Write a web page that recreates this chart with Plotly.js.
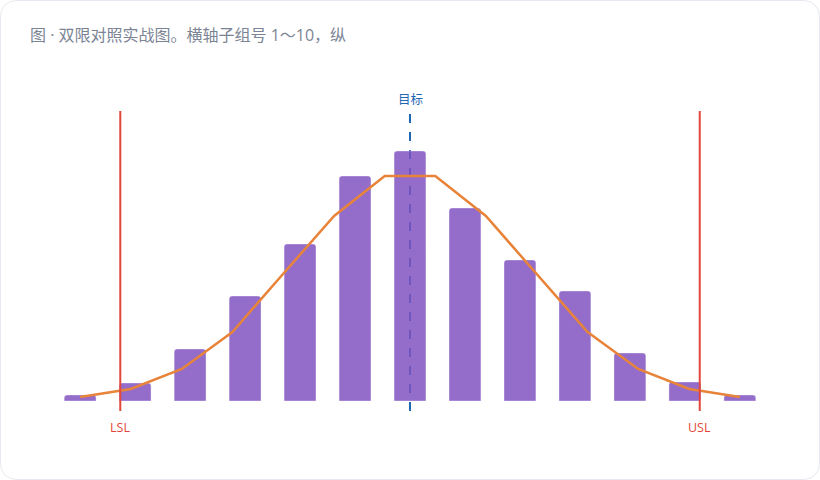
<!DOCTYPE html>
<html>
<head>
<meta charset="utf-8">
<script src="https://cdn.plot.ly/plotly-3.0.1.min.js"></script>
<style>
  html, body { margin: 0; padding: 0; background: #ffffff; }
  #card {
    position: absolute; left: 0; top: 0;
    width: 818px; height: 478px;
    border: 1px solid #e6e9ef; border-radius: 16px;
    background: #ffffff; overflow: hidden;
  }
  #chart { width: 818px; height: 478px; }
</style>
</head>
<body>
<div id="card"><div id="chart"></div></div>
<script>
// histogram bins (measurement value) and counts
let bin_centers = [9.4, 9.5, 9.6, 9.7, 9.8, 9.9, 10.0, 10.1, 10.2, 10.3, 10.4, 10.5, 10.6]
let counts = [1.2, 3.6, 10.4, 21, 31.4, 45, 50, 38.6, 28.2, 22, 9.6, 3.8, 1.2]

// fitted curve
let fit_x = [9.400, 9.492, 9.585, 9.677, 9.769, 9.862, 9.954, 10.046, 10.138, 10.231, 10.323, 10.415, 10.508, 10.600]
let fit_y = [0.8, 2.4, 6.4, 13.8, 25.4, 37.0, 45.0, 45.0, 37.0, 25.4, 13.8, 6.4, 2.4, 0.8]

// spec limits and target
let lsl = 9.473
let usl = 10.527
let target = 10.0

let title_text = '图 · 双限对照实战图。横轴子组号 1～10，纵'

let bar_trace = {
  x: bin_centers,
  y: counts,
  type: 'bar',
  width: 0.058,
  marker: {
    color: '#8052c0',
    opacity: 0.84,
    line: {color: 'rgba(255,255,255,0.35)', width: 1}
  },
  hoverinfo: 'skip'
}

let fit_trace = {
  x: fit_x,
  y: fit_y,
  type: 'scatter',
  mode: 'lines',
  line: {color: '#e8843a', width: 2.5},
  hoverinfo: 'skip'
}

let vline = function(x, color, dash, width, layer) {
  return {
    type: 'line', xref: 'x', yref: 'paper', layer: layer,
    x0: x, x1: x, y0: 0, y1: 1,
    line: {color: color, width: width, dash: dash}
  }
}

let layout = {
  width: 818,
  height: 478,
  margin: {l: 39, r: 39, t: 110, b: 68},
  paper_bgcolor: 'rgba(0,0,0,0)',
  plot_bgcolor: 'rgba(0,0,0,0)',
  showlegend: false,
  barcornerradius: 3,
  font: {family: '"Open Sans", "Noto Sans CJK SC", sans-serif'},
  title: {
    text: title_text,
    xref: 'container', yref: 'container',
    x: 29 / 818, y: 1 - 34 / 478,
    xanchor: 'left', yanchor: 'middle',
    font: {size: 16, color: '#7b8494'}
  },
  xaxis: {
    range: [9.327, 10.673],
    showgrid: false, zeroline: false, showticklabels: false, showline: false, ticks: ''
  },
  yaxis: {
    range: [-2, 58],
    showgrid: false, zeroline: false, showticklabels: false, showline: false, ticks: ''
  },
  shapes: [
    vline(target, '#1f66b3', 'dash', 2, 'below'),
    vline(lsl, '#e2473a', 'solid', 2, 'above'),
    vline(usl, '#e2473a', 'solid', 2, 'above')
  ],
  annotations: [
    {x: target, y: 1, xref: 'x', yref: 'paper', text: '目标', showarrow: false,
     yanchor: 'bottom', yshift: 1, font: {size: 12.5, color: '#1f66b3'}},
    {x: lsl, y: 0, xref: 'x', yref: 'paper', text: 'LSL', showarrow: false,
     yanchor: 'top', yshift: -6, font: {size: 12.5, color: '#e2473a'}},
    {x: usl, y: 0, xref: 'x', yref: 'paper', text: 'USL', showarrow: false,
     yanchor: 'top', yshift: -6, font: {size: 12.5, color: '#e2473a'}}
  ]
}

Plotly.newPlot('chart', [bar_trace, fit_trace], layout, {displayModeBar: false, staticPlot: true})
</script>
</body>
</html>
